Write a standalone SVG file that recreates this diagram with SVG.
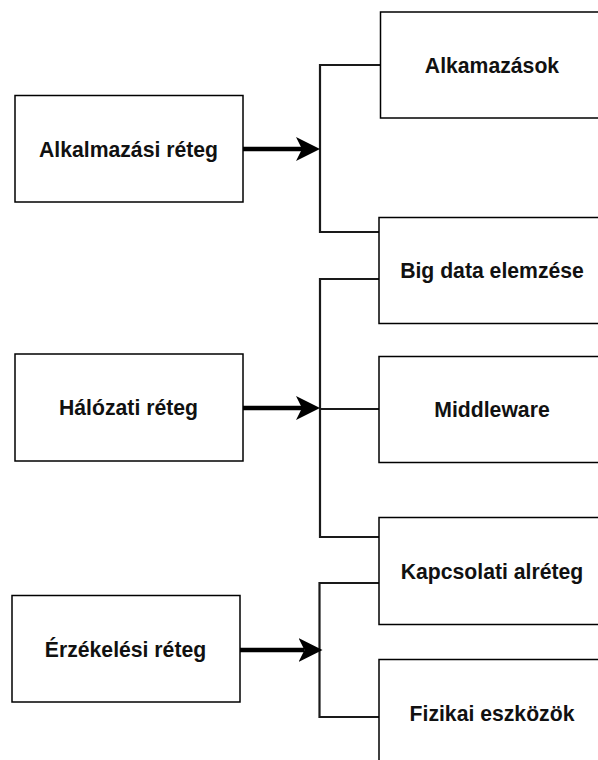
<svg xmlns="http://www.w3.org/2000/svg" width="598" height="760" viewBox="0 0 598 760">
<style>
.box{fill:#fff;stroke:#000;stroke-width:1.5}
.lbl{font-family:"Liberation Sans",Arial,Helvetica,sans-serif;font-weight:bold;font-size:21.2px;fill:#111;text-anchor:middle;dominant-baseline:central}
.br{fill:none;stroke:#1a1a1a;stroke-width:2.2}
.arr{fill:none;stroke:#000;stroke-width:4.5}
</style>
<defs>
<marker id="ah" markerUnits="userSpaceOnUse" viewBox="0 0 24 24" markerWidth="24" markerHeight="24" refX="6" refY="12" orient="auto">
<path d="M0,0 L24,12 L0,24 L6,12 Z" fill="#000"/>
</marker>
</defs>
<rect width="598" height="760" fill="#fff"/>
<g id="connectors">
<path class="br" d="M381,65 H320 V232 H379"/>
<path class="br" d="M379,279 H320 V537 H379"/>
<path class="br" d="M320,409 H379"/>
<path class="br" d="M379,583 H319.5 V717 H379"/>
<path class="arr" d="M243,149 H302" marker-end="url(#ah)"/>
<path class="arr" d="M242,408 H302" marker-end="url(#ah)"/>
<path class="arr" d="M240,650 H304.5" marker-end="url(#ah)"/>
</g>
<g id="alkalmazasi-reteg">
<rect class="box" x="15" y="95.5" width="228" height="106.5"/>
<text class="lbl" x="128.5" y="149">Alkalmazási réteg</text>
</g>
<g id="halozati-reteg">
<rect class="box" x="15" y="354" width="228" height="107"/>
<text class="lbl" x="128.5" y="407.5">Hálózati réteg</text>
</g>
<g id="erzekelesi-reteg">
<rect class="box" x="12" y="595.5" width="228" height="106.5"/>
<text class="lbl" x="125.5" y="649">Érzékelési réteg</text>
</g>
<g id="alkamazasok">
<rect class="box" x="380.5" y="12" width="228" height="106"/>
<text class="lbl" x="492" y="65">Alkamazások</text>
</g>
<g id="big-data">
<rect class="box" x="379" y="217.5" width="228" height="106"/>
<text class="lbl" x="492" y="270.5">Big data elemzése</text>
</g>
<g id="middleware">
<rect class="box" x="379" y="356.5" width="228" height="106"/>
<text class="lbl" x="492" y="409.5">Middleware</text>
</g>
<g id="kapcsolati">
<rect class="box" x="379" y="517.5" width="228" height="107"/>
<text class="lbl" x="492" y="571">Kapcsolati alréteg</text>
</g>
<g id="fizikai">
<rect class="box" x="379" y="659.5" width="228" height="107"/>
<text class="lbl" x="492" y="713">Fizikai eszközök</text>
</g>
</svg>
